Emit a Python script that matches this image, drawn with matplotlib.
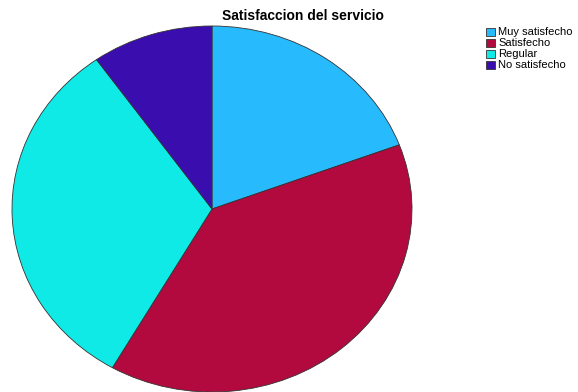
import matplotlib
matplotlib.use("Agg")
import matplotlib.pyplot as plt
from matplotlib.patches import Rectangle

# Satisfaccion del servicio (porcentaje de respuestas)
categorias = ["Muy satisfecho", "Satisfecho", "Regular", "No satisfecho"]
porcentajes = [19.3, 39.0, 31.9, 9.8]
colores = ["#27bafd", "#b20a3e", "#0feae6", "#3a0daf"]

W, H = 578, 392
fig = plt.figure(figsize=(W / 100, H / 100), dpi=100)
fig.patch.set_facecolor("white")

# el pie ocupa un area no cuadrada, asi que queda como elipse
ax = fig.add_axes([12 / W, 0 / H, 400 / W, 366 / H])
ax.pie(porcentajes, colors=colores, startangle=90, counterclock=False,
       radius=1, wedgeprops=dict(edgecolor="#333333", linewidth=0.6))
ax.set_aspect("auto")
ax.set_xlim(-1.0, 1.0)
ax.set_ylim(-1.0, 1.0)
ax.axis("off")

fig.text(303 / W, 1 - 16 / H, "Satisfaccion del servicio", ha="center", va="center",
         fontsize=10, fontweight="bold", family="Liberation Sans")

# leyenda dibujada a mano
y0 = 32
paso = 11
for i, (cat, col) in enumerate(zip(categorias, colores)):
    yc = y0 + i * paso
    fig.add_artist(Rectangle((485.5 / W, 1 - (yc + 4) / H), 9.5 / W, 8 / H,
                             facecolor=col, edgecolor="#333333", linewidth=0.6,
                             transform=fig.transFigure))
    fig.text(498.5 / W, 1 - yc / H, cat, ha="left", va="center",
             fontsize=8, family="Liberation Sans")

fig.savefig("out.png", dpi=100)
